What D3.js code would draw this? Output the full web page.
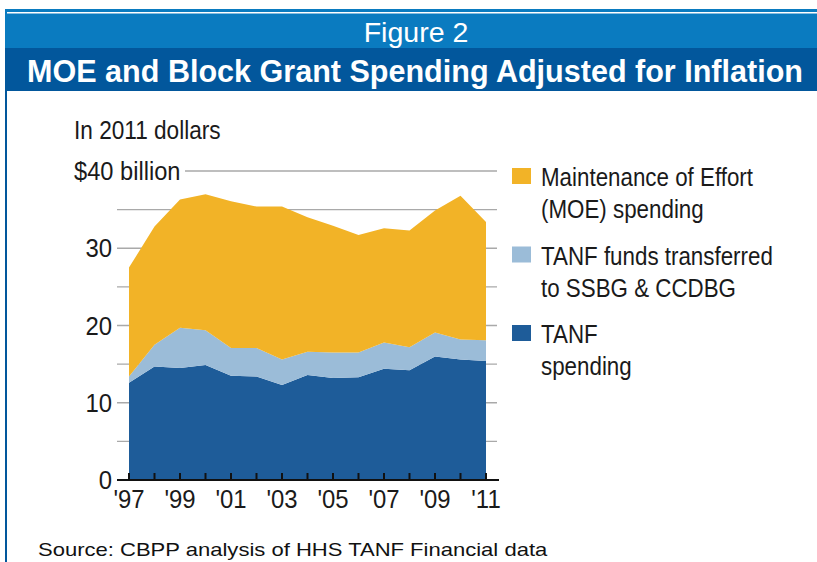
<!DOCTYPE html>
<html>
<head>
<meta charset="utf-8">
<script src="https://cdn.jsdelivr.net/npm/d3@7"></script>
<style>
  body { margin: 0; background: #fff; }
  svg { display: block; }
  text { font-family: "Liberation Sans", Arial, sans-serif; }
</style>
</head>
<body>
<script>
// years and series values (billions, 2011 dollars)
var years = [1997,1998,1999,2000,2001,2002,2003,2004,2005,2006,2007,2008,2009,2010,2011];
var tanfSpending = [12.6,14.7,14.5,14.9,13.5,13.4,12.3,13.6,13.2,13.3,14.4,14.2,16.0,15.6,15.4];
var transferred  = [0.8,2.8,5.2,4.5,3.6,3.7,3.3,3.0,3.3,3.2,3.4,3.0,3.1,2.6,2.7];
var moeSpending  = [14.1,15.3,16.6,17.6,19.0,18.3,19.8,17.4,16.4,15.2,14.8,15.1,15.8,18.6,15.3];
var yTicks = [0,10,20,30,40];
var yMinor = [5,15,25,35];
var xLabelYears = [1997,1999,2001,2003,2005,2007,2009,2011];

var keys = ["tanf","transfer","moe"];
var colors = {tanf: "#1e5c99", transfer: "#9bbcd8", moe: "#f2b327"};
var legendItems = [
  {key: "moe", lines: ["Maintenance of Effort", "(MOE) spending"]},
  {key: "transfer", lines: ["TANF funds transferred", "to SSBG & CCDBG"]},
  {key: "tanf", lines: ["TANF", "spending"]}
];

var W = 817, H = 562;
var svg = d3.select("body").append("svg").attr("width", W).attr("height", H);

// narrow text: squeeze horizontally, like the condensed face of the original
function narrowText(parent, x, y, str, size, sx, anchor) {
  return parent.append("text")
    .attr("transform", "translate(" + x + "," + y + ") scale(" + sx + ",1)")
    .attr("text-anchor", anchor || "start")
    .attr("fill", "#1a1a1a")
    .style("font-size", size + "px")
    .text(str);
}

// frame and header bands
svg.append("rect").attr("x",5).attr("y",9).attr("width",W-5).attr("height",39).attr("fill","#0a7bc0");
svg.append("rect").attr("x",7).attr("y",12).attr("width",W-7).attr("height",1.5).attr("fill","#fff");
svg.append("rect").attr("x",5).attr("y",48).attr("width",W-5).attr("height",43).attr("fill","#02579c");
svg.append("rect").attr("x",5).attr("y",91).attr("width",2).attr("height",H-91).attr("fill","#02579c");

narrowText(svg, 416, 42, "Figure 2", 28, 1.02, "middle").attr("fill","#fff");
narrowText(svg, 415, 82, "MOE and Block Grant Spending Adjusted for Inflation", 32, 0.955, "middle")
  .attr("fill","#fff").style("font-weight","bold");

// scales
var x = d3.scaleLinear().domain([1997,2011]).range([129,486]);
var y = d3.scaleLinear().domain([0,40]).range([480,171]);

// gridlines
var g = svg.append("g");
g.selectAll(".grid").data(yTicks.concat(yMinor).filter(function(d){return d>0;}))
  .enter().append("line")
  .attr("x1", function(d){ return d==40 ? 185 : 117; })
  .attr("x2", 497)
  .attr("y1", function(d){ return y(d); }).attr("y2", function(d){ return y(d); })
  .attr("stroke","#a9a9a9").attr("stroke-width",1.3);

// stacked areas
var table = years.map(function(yr,i){
  return {year: yr, tanf: tanfSpending[i], transfer: transferred[i], moe: moeSpending[i]};
});
var stacked = d3.stack().keys(keys)(table);
var area = d3.area()
  .x(function(d){ return x(d.data.year); })
  .y0(function(d){ return y(d[0]); })
  .y1(function(d){ return y(d[1]); });
g.selectAll(".layer").data(stacked).enter().append("path")
  .attr("d", area).attr("fill", function(d){ return colors[d.key]; });

// x axis
g.append("line").attr("x1",117).attr("x2",499).attr("y1",y(0)).attr("y2",y(0))
  .attr("stroke","#111").attr("stroke-width",2);
g.selectAll(".xt").data(years).enter().append("line")
  .attr("x1", function(d){ return x(d); }).attr("x2", function(d){ return x(d); })
  .attr("y1", y(0)).attr("y2", y(0)-7).attr("stroke","#111").attr("stroke-width",2);
xLabelYears.forEach(function(d){
  narrowText(g, x(d), 508, "'" + String(d).slice(2), 26, 0.92, "middle");
});

// y labels
yTicks.filter(function(d){ return d < 40; }).forEach(function(d){
  narrowText(g, 112, y(d) + 9, String(d), 26, 0.92, "end");
});
narrowText(g, 74, y(40) + 9, "$40 billion", 26, 0.91);
narrowText(g, 74, 139, "In 2011 dollars", 26, 0.87);

// legend
var lg = svg.append("g").selectAll(".lg").data(legendItems).enter().append("g")
  .attr("transform", function(d,i){ return "translate(512," + (168 + i*78.5) + ")"; });
lg.append("rect").attr("width",19).attr("height",16).attr("fill", function(d){ return colors[d.key]; });
lg.each(function(d){
  var t = d3.select(this);
  d.lines.forEach(function(line, j){
    narrowText(t, 29, 18 + j*32, line, 26, 0.86);
  });
});

// source
narrowText(svg, 38, 556, "Source: CBPP analysis of HHS TANF Financial data", 19, 1.16).attr("fill","#111");
</script>
</body>
</html>
